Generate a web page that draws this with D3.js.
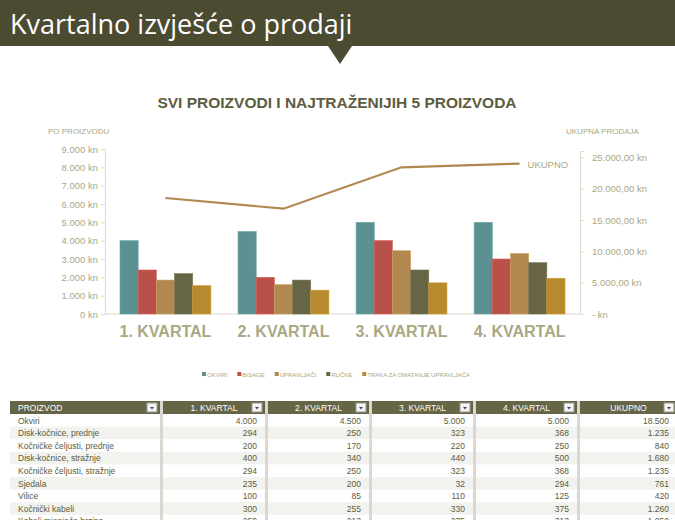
<!DOCTYPE html>
<html><head><meta charset="utf-8">
<script src="https://cdn.jsdelivr.net/npm/d3@7"></script>
<style>
body{margin:0;background:#fff;font-family:"Liberation Sans Narrow","Liberation Sans",sans-serif;}
</style></head>
<body><svg id="c" width="675" height="520"></svg>
<script>
// chart data
var quarters = ["1. KVARTAL", "2. KVARTAL", "3. KVARTAL", "4. KVARTAL"];
var seriesNames = ["OKVIRI", "BISAGE", "UPRAVLJAČI", "RUČKE", "TRAKA ZA OMATANJE UPRAVLJAČA"];
var seriesColors = ["#5b9190", "#b9504a", "#b08850", "#666646", "#b78a2e"];
var okviri = [4000, 4500, 5000, 5000];
var bisage = [2400, 2000, 4000, 3000];
var upravljaci = [1850, 1600, 3450, 3300];
var rucke = [2200, 1850, 2400, 2800];
var traka = [1550, 1300, 1700, 1950];
var ukupno = [18500, 16800, 23400, 24000];
var leftTicks = [0, 1000, 2000, 3000, 4000, 5000, 6000, 7000, 8000, 9000];
var rightTicks = [0, 5000, 10000, 15000, 20000, 25000];

// table data
var tableCols = ["PROIZVOD", "1. KVARTAL", "2. KVARTAL", "3. KVARTAL", "4. KVARTAL", "UKUPNO"];
var products = ["Okviri", "Disk-kočnice, prednje", "Kočničke čeljusti, prednje", "Disk-kočnice, stražnje",
  "Kočničke čeljusti, stražnje", "Sjedala", "Vilice", "Kočnički kabeli", "Kabeli mjenjača brzina"];
var q1 = [4000, 294, 200, 400, 294, 235, 100, 300, 250];
var q2 = [4500, 250, 170, 340, 250, 200, 85, 255, 213];
var q3 = [5000, 323, 220, 440, 323, 32, 110, 330, 275];
var q4 = [5000, 368, 250, 500, 368, 294, 125, 375, 313];
var totals = [18500, 1235, 840, 1680, 1235, 761, 420, 1260, 1050];

var svg = d3.select("#c");
var olive = "#4b4b32", labelCol = "#a9a784";
var fmt = d3.formatLocale({decimal: ",", thousands: ".", grouping: [3], currency: ["", ""]});
var fInt = fmt.format(",.0f"), fDec = fmt.format(",.2f");

// header banner
svg.append("rect").attr("x", 0).attr("y", 0).attr("width", 675).attr("height", 46).attr("fill", olive);
svg.append("path").attr("d", "M328,46 L352,46 L340,64 Z").attr("fill", olive);
svg.append("text").attr("x", 10).attr("y", 34).attr("fill", "#fff")
  .style("font-family", "'Open Sans',sans-serif").style("font-size", "27px").text("Kvartalno izvješće o prodaji");

svg.append("text").attr("x", 337).attr("y", 108).attr("text-anchor", "middle").attr("fill", "#5c5c3e")
  .style("font-size", "15.5px").style("font-weight", "bold").text("SVI PROIZVODI I NAJTRAŽENIJIH 5 PROIZVODA");

// scales
var x0 = d3.scaleBand().domain(quarters).range([107, 578]).paddingInner(0.23).paddingOuter(0.11);
var x1 = d3.scaleBand().domain(seriesNames).range([0, x0.bandwidth()]);
var yL = d3.scaleLinear().domain([0, 9000]).range([314, 149]);
var yR = d3.scaleLinear().domain([0, 26000]).range([314, 151]);

var axL = svg.append("g").attr("transform", "translate(105,0)")
  .call(d3.axisLeft(yL).tickValues(leftTicks).tickSize(4).tickFormat(function (d) { return fInt(d) + " kn"; }));
var axR = svg.append("g").attr("transform", "translate(580,0)")
  .call(d3.axisRight(yR).tickValues(rightTicks).tickSize(4).tickPadding(8)
    .tickFormat(function (d) { return d === 0 ? "-   kn" : fDec(d) + " kn"; }));
[axL, axR].forEach(function (a) {
  a.select(".domain").attr("stroke", "#dcdccb");
  a.selectAll(".tick line").attr("stroke", "#dcdccb");
  a.selectAll("text").attr("fill", labelCol).style("font-size", "9.5px").style("font-family", "'Liberation Sans',sans-serif");
});
svg.append("line").attr("x1", 105).attr("x2", 580).attr("y1", 314).attr("y2", 314).attr("stroke", "#dcdccb");

svg.append("text").attr("x", 48).attr("y", 134).attr("fill", labelCol).style("font-size", "8px")
  .style("font-family", "'Liberation Sans',sans-serif").text("PO PROIZVODU");
svg.append("text").attr("x", 566).attr("y", 134).attr("fill", labelCol).style("font-size", "8px")
  .style("font-family", "'Liberation Sans',sans-serif").text("UKUPNA PRODAJA");

// bars
var series = [okviri, bisage, upravljaci, rucke, traka];
quarters.forEach(function (q, qi) {
  series.forEach(function (s, si) {
    svg.append("rect").attr("x", x0(q) + x1(seriesNames[si])).attr("y", yL(s[qi]))
      .attr("width", x1.bandwidth()).attr("height", 314 - yL(s[qi]))
      .attr("fill", seriesColors[si]).attr("stroke", d3.color(seriesColors[si]).brighter(0.4)).attr("stroke-width", 0.6);
  });
  svg.append("text").attr("x", x0(q) + x0.bandwidth() / 2).attr("y", 337).attr("text-anchor", "middle")
    .attr("fill", labelCol).style("font-size", "16px").style("font-weight", "bold").text(q);
});

// total line
var line = d3.line().x(function (d, i) { return x0(quarters[i]) + x0.bandwidth() / 2; }).y(function (d) { return yR(d); });
svg.append("path").datum(ukupno).attr("d", line).attr("fill", "none").attr("stroke", "#b08850").attr("stroke-width", 2.2);
svg.append("text").attr("x", x0(quarters[3]) + x0.bandwidth() / 2 + 8).attr("y", yR(ukupno[3]) + 4)
  .attr("fill", labelCol).style("font-size", "9.5px").style("font-family", "'Liberation Sans',sans-serif").text("UKUPNO");

// legend
var lg = svg.append("g").attr("transform", "translate(202,377)");
var lx = 0;
seriesNames.forEach(function (n, i) {
  lg.append("rect").attr("x", lx).attr("y", -5).attr("width", 4).attr("height", 4).attr("fill", seriesColors[i]);
  var t = lg.append("text").attr("x", lx + 5).attr("y", 0).attr("fill", labelCol).style("font-size", "6px")
    .style("font-family", "'Liberation Sans',sans-serif").text(n);
  lx += t.node().getComputedTextLength() + 15;
});

// table
var colX = [10, 163, 268, 372, 476, 580];
var colW = [150, 102, 101, 101, 101, 97];
var rowH = 12.6, tableTop = 401;
var tableVals = [q1, q2, q3, q4, totals];
products.forEach(function (p, r) {
  if (r % 2 === 1) {
    colX.forEach(function (cx, c) {
      svg.append("rect").attr("x", cx).attr("y", tableTop + 13 + r * rowH).attr("width", colW[c]).attr("height", rowH).attr("fill", "#f2f2ee");
    });
  }
});
colX.forEach(function (cx, c) {
  svg.append("rect").attr("x", cx).attr("y", tableTop).attr("width", colW[c]).attr("height", 13).attr("fill", "#666646");
  svg.append("text").attr("x", c === 0 ? cx + 8 : cx + colW[c] / 2).attr("y", tableTop + 10)
    .attr("text-anchor", c === 0 ? "start" : "middle").attr("fill", "#fff").style("font-size", "8.5px").text(tableCols[c]);
  svg.append("rect").attr("x", cx + colW[c] - 13).attr("y", tableTop + 2).attr("width", 10).attr("height", 9).attr("fill", "#f4f4f4").attr("stroke", "#999");
  svg.append("path").attr("d", "M" + (cx + colW[c] - 10) + "," + (tableTop + 6) + " l4,0 l-2,2.5 Z").attr("fill", "#444");
  if (c > 0) {
    svg.append("rect").attr("x", cx - 3).attr("y", tableTop).attr("width", 3).attr("height", 120).attr("fill", "#d8d8d0");
  }
});
products.forEach(function (p, r) {
  var y = tableTop + 13 + r * rowH + 9.5;
  svg.append("text").attr("x", 18).attr("y", y).attr("fill", "#5c5c3e").style("font-size", "8.5px").text(p);
  tableVals.forEach(function (vals, c) {
    svg.append("text").attr("x", colX[c + 1] + colW[c + 1] - 8).attr("y", y).attr("text-anchor", "end")
      .attr("fill", "#5c5c3e").style("font-size", "8.5px").text(fInt(vals[r]));
  });
});
</script></body></html>
